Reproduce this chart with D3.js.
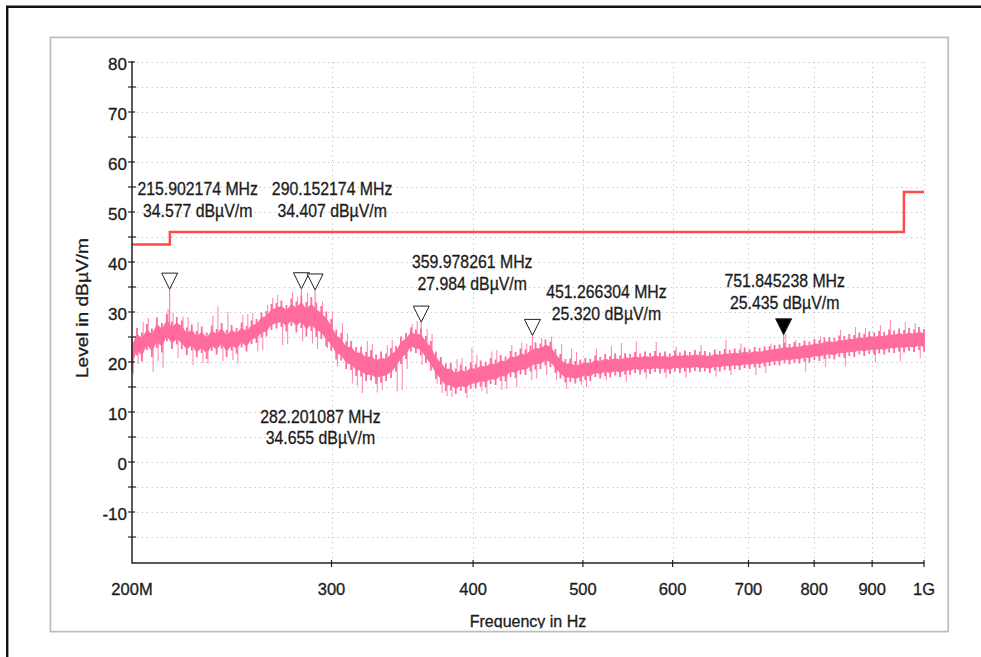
<!DOCTYPE html>
<html>
<head>
<meta charset="utf-8">
<script src="https://cdn.jsdelivr.net/npm/d3@7"></script>
<style>
  html, body { margin: 0; padding: 0; background: #fff; }
  svg { display: block; font-family: "Liberation Sans", Arial, sans-serif; }
</style>
</head>
<body>
<svg id="chart" width="981" height="657"></svg>
<script>
// ---- Sweep settings (log-stepped receiver sweep, MHz) ----
const sweepStartMHz = 200;
const sweepStopMHz = 1000;

// Peak trace: upper and lower edge of the noise band at each sweep point (dBµV/m)
const levelHi = [
  24.6, 26.8, 25.9, 27.6, 26.7, 28.9, 27.8, 29.6, 28.1, 29.0,
  28.3, 26.9, 27.5, 26.2, 27.1, 25.9, 27.3, 26.6, 27.8, 26.4,
  27.4, 26.8, 27.9, 27.2, 28.3, 28.6, 29.9, 30.2, 31.6, 31.8,
  32.3, 31.4, 32.7, 32.1, 33.3, 32.0, 33.0, 31.9, 31.2, 30.1,
  28.6, 26.5, 25.8, 24.1, 24.2, 23.0, 23.1, 22.0, 22.4, 21.5,
  22.1, 21.7, 22.8, 23.2, 25.1, 25.8, 26.9, 26.5, 26.7, 25.2,
  24.2, 22.1, 21.0, 19.7, 19.8, 18.7, 19.5, 19.1, 19.9, 19.6,
  20.3, 20.1, 20.8, 20.5, 21.4, 21.1, 22.2, 22.0, 22.7, 22.5,
  23.3, 23.9, 23.7, 24.5, 24.1, 22.6, 21.6, 20.6, 20.7, 20.2,
  20.5, 20.8, 20.6, 21.3, 21.0, 21.6, 21.2, 21.7, 21.3, 21.8,
  21.6, 22.0, 21.7, 22.1, 21.8, 22.2, 21.9, 22.1, 21.7, 22.3,
  21.9, 22.3, 22.0, 22.4, 22.1, 22.2, 21.9, 22.5, 22.2, 22.6,
  22.4, 22.7, 22.5, 22.9, 22.6, 23.0, 22.8, 23.1, 23.2, 23.4,
  23.5, 23.9, 23.6, 24.0, 23.8, 24.3, 24.1, 24.6, 24.4, 24.9,
  25.0, 24.8, 25.3, 25.2, 25.6, 25.4, 25.9, 25.6, 26.1, 25.9,
  26.2, 26.0, 26.5, 26.3, 26.7, 26.4, 26.8, 26.5, 27.0, 26.6
];
const levelLo = [
  18.2, 21.3, 20.1, 22.4, 21.0, 22.8, 21.9, 24.1, 22.6, 23.5,
  22.6, 21.4, 22.3, 20.9, 21.8, 20.6, 22.2, 21.5, 22.7, 21.0,
  22.3, 21.7, 22.9, 22.1, 23.6, 23.8, 24.9, 25.1, 26.4, 26.7,
  27.0, 26.1, 27.2, 25.9, 26.8, 25.1, 26.2, 25.0, 24.6, 23.1,
  22.2, 20.5, 20.3, 18.6, 18.4, 17.2, 17.1, 16.2, 16.3, 15.6,
  15.9, 16.2, 16.8, 18.1, 19.6, 20.6, 22.1, 21.8, 21.3, 19.8,
  18.3, 16.6, 15.5, 14.2, 14.3, 13.6, 14.2, 13.8, 14.6, 14.7,
  15.1, 15.0, 15.6, 15.4, 16.2, 16.1, 17.0, 16.8, 17.5, 17.4,
  18.1, 18.5, 18.6, 19.3, 19.0, 17.8, 16.7, 15.9, 16.0, 15.7,
  16.1, 16.4, 16.2, 17.0, 16.7, 17.2, 16.9, 17.3, 17.0, 17.5,
  17.4, 17.8, 17.5, 17.9, 17.6, 18.0, 17.7, 17.9, 17.6, 18.1,
  17.8, 18.1, 17.9, 18.2, 18.0, 18.1, 17.8, 18.3, 18.1, 18.4,
  18.3, 18.6, 18.4, 18.8, 18.6, 18.9, 18.8, 19.1, 19.2, 19.4,
  19.3, 19.7, 19.5, 19.8, 19.7, 20.1, 19.9, 20.4, 20.2, 20.6,
  20.7, 20.5, 21.0, 20.8, 21.2, 21.0, 21.5, 21.2, 21.6, 21.4,
  21.7, 21.5, 21.9, 21.8, 22.1, 21.9, 22.2, 22.0, 22.4, 22.1
];

// Isolated excursions of the trace beyond the band: sweep point index and level (dBµV/m)
const spikeBin = [
  0, 1, 2, 3, 4, 5, 6, 7, 8, 9, 10, 11, 12, 13, 14, 15, 16, 17, 18, 19,
  20, 21, 22, 23, 24, 25, 26, 27, 28, 29, 30, 31, 32, 33, 34, 35, 36, 37, 38, 39,
  40, 41, 42, 43, 44, 45, 46, 47, 48, 49, 50, 51, 52, 53, 54, 55, 56, 57, 58, 59,
  60, 61, 62, 63, 64, 65, 66, 67, 68, 69, 70, 71, 72, 73, 74, 75, 76, 77, 78, 79,
  80, 81, 82, 83, 84, 85, 86, 87, 88, 89, 90, 91, 93, 95, 96, 98, 99, 101, 103, 105,
  107, 109, 111, 114, 117, 119, 120, 122, 125, 127, 128, 131, 133, 135, 138, 139, 142, 143, 145, 147,
  149, 150, 152, 154, 155, 157, 158
];
const spikeLevel = [
  17.6, 19.6, 28.0, 28.8, 18.0, 20.2, 18.8, 30.6, 29.8, 20.8, 29.1, 29.0, 19.4, 28.0, 19.8, 19.6, 29.2, 31.1, 20.2, 30.0,
  20.4, 19.7, 29.4, 29.6, 29.8, 22.1, 22.4, 31.4, 32.8, 33.4, 23.4, 23.6, 34.1, 33.1, 24.1, 33.8, 23.7, 22.6, 32.1, 22.8,
  30.1, 19.1, 27.8, 25.7, 15.7, 15.2, 13.8, 24.2, 23.6, 13.9, 14.4, 23.4, 24.4, 14.1, 14.4, 18.6, 27.6, 28.2, 19.4, 26.6,
  25.6, 15.6, 13.8, 13.2, 13.0, 20.6, 20.8, 12.8, 22.8, 21.4, 14.1, 13.6, 22.1, 22.4, 14.4, 14.6, 23.4, 15.0, 24.0, 23.7,
  16.4, 16.7, 24.8, 17.4, 25.1, 16.4, 23.6, 14.6, 22.7, 22.0, 15.4, 15.0, 22.7, 16.4, 23.2, 23.8, 16.0, 24.1, 16.7, 24.0,
  16.8, 23.1, 16.8, 23.4, 17.1, 24.4, 17.4, 23.7, 17.4, 17.8, 23.7, 25.6, 24.4, 18.1, 25.1, 19.0, 26.4, 19.1, 27.0, 26.8,
  19.9, 27.4, 28.4, 20.1, 28.0, 27.8, 20.7
];

// Limit line (step function): start frequency of each segment and its level
const limitFreq  = [200, 216, 960, 1000];
const limitLevel = [43.5, 46, 54, 54];

// Peak markers
const markerFreq   = [215.902174, 282.201087, 290.152174, 359.978261, 451.266304, 751.845238];
const markerLevel  = [34.577, 34.655, 34.407, 27.984, 25.320, 25.435];
const markerActive = [false, false, false, false, false, true];

// Axis ticks
const xTickValues = [200, 300, 400, 500, 600, 700, 800, 900, 1000];
const xTickLabels = ["200M", "300", "400", "500", "600", "700", "800", "900", "1G"];
const yTickValues = [-10, 0, 10, 20, 30, 40, 50, 60, 70, 80];
const yMinorValues = [-15, -5, 5, 15, 25, 35, 45, 55, 65, 75];

// ---- Layout ----
const plot = { left: 132, right: 924, top: 62, bottom: 562 };
// label placement relative to marker tip (px): [dx of text centre, dy of first baseline]
const labelOffsets = [[28, -94], [19, 134], [17, -95], [51, -54], [74, -37], [1, -48]];
// share of the band left to the individual sweep strokes on each side
const fringeShare = 0.2;

const svg = d3.select("#chart");

const x = d3.scaleLog().domain([sweepStartMHz, sweepStopMHz]).range([plot.left, plot.right]);
const y = d3.scaleLinear().domain([-20, 80]).range([plot.bottom, plot.top]);

// Frames
svg.append("path")
  .attr("d", "M7.2,657 V6.8 H981")
  .attr("fill", "none").attr("stroke", "#111").attr("stroke-width", 2.4);
svg.append("rect")
  .attr("x", 50.4).attr("y", 37.4).attr("width", 897.8).attr("height", 594.2)
  .attr("fill", "none").attr("stroke", "#bdbdbd").attr("stroke-width", 1.7);

// Grid
const grid = svg.append("g").attr("stroke", "#c4c4c4").attr("stroke-width", 1)
  .attr("stroke-dasharray", "1.3,3.6");
yTickValues.concat(yMinorValues).forEach(v => {
  grid.append("line").attr("x1", plot.left).attr("x2", plot.right)
    .attr("y1", Math.round(y(v)) + 0.5).attr("y2", Math.round(y(v)) + 0.5);
});
xTickValues.slice(1).forEach(f => {
  grid.append("line").attr("y1", plot.top).attr("y2", plot.bottom)
    .attr("x1", Math.round(x(f)) + 0.5).attr("x2", Math.round(x(f)) + 0.5);
});

// Limit line
const limitPts = limitFreq.map((f, i) => [f, limitLevel[i]]);
svg.append("path")
  .datum(limitPts)
  .attr("d", d3.line().x(d => x(d[0])).y(d => y(d[1])).curve(d3.curveStepAfter))
  .attr("fill", "none").attr("stroke", "#ff4a4a").attr("stroke-width", 2.5);

// Spectrum trace
const nPts = levelHi.length;
const sweep = d3.range(nPts).map(i => sweepStartMHz * Math.pow(sweepStopMHz / sweepStartMHz, i / (nPts - 1)));
const trace = sweep.map((f, i) => ({ f, hi: levelHi[i], lo: levelLo[i] }));
const traceColor = "#ff6b9c";

const traceG = svg.append("g");

function spikeLine(f, v, color, w) {
  const i = d3.leastIndex(sweep, s => Math.abs(Math.log(s / f)));
  const b = trace[i];
  const mid = (b.hi + b.lo) / 2;
  traceG.append("line")
    .attr("x1", x(f)).attr("x2", x(f))
    .attr("y1", y(mid)).attr("y2", y(v))
    .attr("stroke", color).attr("stroke-width", w);
}
spikeBin.forEach((b, k) => spikeLine(sweep[b] * 1.0025, spikeLevel[k], "#ff8cb3", 1.1));
markerFreq.forEach((f, i) => spikeLine(f, markerLevel[i], "#ff80aa", 1.2));

// one stroke per sweep point spanning its full excursion
traceG.append("g").selectAll("line").data(trace).join("line")
  .attr("x1", d => x(d.f)).attr("x2", d => x(d.f))
  .attr("y1", d => y(d.hi)).attr("y2", d => y(d.lo))
  .attr("stroke", traceColor).attr("stroke-width", 1.8);

// dense core of the band
const inset = d => fringeShare * (d.hi - d.lo);
traceG.append("path").datum(trace)
  .attr("d", d3.area().x(d => x(d.f)).y0(d => y(d.lo + inset(d))).y1(d => y(d.hi - inset(d))))
  .attr("fill", traceColor);

// Axes
const axisG = svg.append("g").attr("stroke", "#222").attr("stroke-width", 1.5);
axisG.append("line").attr("x1", plot.left).attr("x2", plot.left)
  .attr("y1", plot.top - 1).attr("y2", plot.bottom + 1.5);
axisG.append("line").attr("x1", plot.left).attr("x2", plot.right + 0.5)
  .attr("y1", plot.bottom + 1).attr("y2", plot.bottom + 1);
yTickValues.forEach(v => {
  axisG.append("line").attr("x1", plot.left - 4).attr("x2", plot.left + 3)
    .attr("y1", y(v)).attr("y2", y(v)).attr("stroke-width", 1.2);
});
yMinorValues.forEach(v => {
  axisG.append("line").attr("x1", plot.left - 4).attr("x2", plot.left + 4)
    .attr("y1", y(v)).attr("y2", y(v)).attr("stroke-width", 1.2);
});
xTickValues.slice(1).forEach(f => {
  axisG.append("line").attr("x1", x(f)).attr("x2", x(f))
    .attr("y1", plot.bottom - 2).attr("y2", plot.bottom + 5).attr("stroke-width", 1.2);
});

const labelColor = "#1b1b1b";
const textG = svg.append("g").attr("fill", labelColor)
  .attr("stroke", labelColor).attr("stroke-width", 0.3);
textG.append("g").selectAll("text").data(yTickValues).join("text")
  .attr("x", plot.left - 5).attr("y", d => y(d) + 8)
  .attr("text-anchor", "end").attr("font-size", 17)
  .text(d => d);
textG.append("g").selectAll("text").data(xTickValues).join("text")
  .attr("x", d => x(d)).attr("y", 595)
  .attr("text-anchor", "middle").attr("font-size", 16.5)
  .text((d, i) => xTickLabels[i]);

// Axis titles
svg.append("clipPath").attr("id", "titleClip")
  .append("rect").attr("x", 0).attr("y", 0).attr("width", 981).attr("height", 628.3);
textG.append("text")
  .attr("clip-path", "url(#titleClip)")
  .attr("x", (plot.left + plot.right) / 2).attr("y", 626.7)
  .attr("text-anchor", "middle").attr("font-size", 16)
  .text("Frequency in Hz");
textG.append("text")
  .attr("transform", "translate(88,308) rotate(-90) scale(1.13,1)")
  .attr("text-anchor", "middle").attr("font-size", 17)
  .text("Level in dBµV/m");

// Markers and their readouts
const markerG = svg.append("g");
markerFreq.forEach((f, i) => {
  const tx = x(f), ty = y(markerLevel[i]);
  markerG.append("path")
    .attr("d", `M${tx},${ty} L${tx - 8},${ty - 16} L${tx + 8},${ty - 16} Z`)
    .attr("fill", markerActive[i] ? "#000" : "#fff")
    .attr("stroke", "#222").attr("stroke-width", 1);
  const [dx, dy] = labelOffsets[i];
  const g = textG.append("g").attr("transform", `translate(${tx + dx},${ty + dy})`);
  const lines = [`${f.toFixed(6)} MHz`, `${markerLevel[i].toFixed(3)} dBµV/m`];
  lines.forEach((s, k) => {
    g.append("text")
      .attr("transform", `translate(0,${k * 21.7}) scale(0.88,1)`)
      .attr("text-anchor", "middle").attr("font-size", 18)
      .text(s);
  });
});
</script>
</body>
</html>
